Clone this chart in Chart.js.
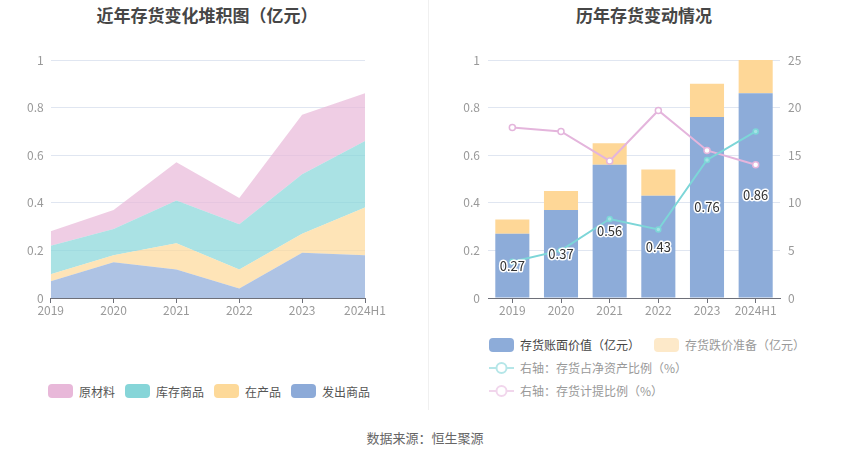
<!DOCTYPE html>
<html>
<head>
<meta charset="utf-8">
<script src="https://cdn.jsdelivr.net/npm/chart.js@4.4.1/dist/chart.umd.min.js"></script>
<style>
  body { margin: 0; background: #fff; font-family: "Noto Sans CJK SC", "Noto Sans", sans-serif; }
  #page { position: relative; width: 850px; height: 459px; overflow: hidden; }
  .title { position: absolute; top: 2px; font-size: 17px; font-weight: bold; color: #464646; text-align: center; }
  .box { position: absolute; }
  #divider { position: absolute; left: 428px; top: 0; width: 1px; height: 410px; background: #f0f0f0; }
  .legend { position: absolute; font-size: 12px; color: #555; }
  .legend .item { display: inline-flex; align-items: center; margin-right: 10px; height: 20px; }
  .legend .sw { display: inline-block; width: 25px; height: 14px; border-radius: 4px; margin-right: 6px; }
  .legend svg { margin-right: 6px; }
  .legend .row { height: 23px; display: flex; align-items: center; }
  #source { position: absolute; top: 428px; left: 0; width: 850px; text-align: center; font-size: 13px; color: #666; }
</style>
</head>
<body>
<div id="page">
  <div class="title" style="left:0;width:414px;">近年存货变化堆积图（亿元）</div>
  <div class="title" style="left:430px;width:428px;">历年存货变动情况</div>
  <div id="divider"></div>
  <div class="box" style="left:0;top:0;width:428px;height:330px;"><canvas id="stackChart"></canvas></div>
  <div class="box" style="left:428px;top:0;width:422px;height:330px;"><canvas id="invChart"></canvas></div>
  <div class="legend" id="stackLegend" style="left:48px;top:381px;"></div>
  <div class="legend" id="invLegend" style="left:489px;top:333px;"></div>
  <div id="source">数据来源：恒生聚源</div>
</div>
<script>
// --- 数据 ---
const years = ['2019', '2020', '2021', '2022', '2023', '2024H1'];

// 堆积图（亿元）
const rawMaterial = [0.06, 0.08, 0.16, 0.11, 0.25, 0.20];   // 原材料
const stockGoods = [0.12, 0.11, 0.18, 0.19, 0.25, 0.28];    // 库存商品
const wip = [0.03, 0.03, 0.11, 0.08, 0.08, 0.20];           // 在产品
const shippedGoods = [0.07, 0.15, 0.12, 0.04, 0.19, 0.18];  // 发出商品

// 存货变动
const bookValue = [0.27, 0.37, 0.56, 0.43, 0.76, 0.86];     // 存货账面价值（亿元）
const provision = [0.06, 0.08, 0.09, 0.11, 0.14, 0.14];     // 存货跌价准备（亿元）
const netAssetRatio = [3.8, 5.0, 8.3, 7.2, 14.5, 17.5];     // 存货占净资产比例（%）
const provisionRatio = [17.9, 17.5, 14.4, 19.7, 15.5, 14.0]; // 存货计提比例（%）

const leftTicks = [0, 0.2, 0.4, 0.6, 0.8, 1];
const rightTicks = [0, 5, 10, 15, 20, 25];

const FONT = '"Noto Sans CJK SC", "Noto Sans", sans-serif';
const gridColor = '#e0e6f1';
const axisColor = '#6e7079';
const tickColor = '#999';
const plainTick = v => String(v);

// --- 堆积图 ---
const stackSeries = [
  { name: '原材料', data: rawMaterial, color: '#e8b8d9', fill: 'rgba(232,184,217,0.7)' },
  { name: '库存商品', data: stockGoods, color: '#86d5d8', fill: 'rgba(134,213,216,0.7)' },
  { name: '在产品', data: wip, color: '#fdd999', fill: 'rgba(253,217,153,0.7)' },
  { name: '发出商品', data: shippedGoods, color: '#8caad8', fill: 'rgba(140,170,216,0.7)' }
];

// 底层为发出商品，依次向上
const stackDatasets = stackSeries.slice().reverse().map((s, i) => ({
  label: s.name,
  data: s.data,
  backgroundColor: s.fill,
  borderWidth: 0,
  pointRadius: 0,
  tension: 0,
  fill: i === 0 ? 'origin' : '-1'
}));

new Chart(document.getElementById('stackChart'), {
  type: 'line',
  data: { labels: years, datasets: stackDatasets },
  options: {
    responsive: true,
    maintainAspectRatio: false,
    animation: false,
    layout: { padding: { top: 60, right: 63, bottom: 10, left: 0 } },
    plugins: { legend: { display: false }, tooltip: { enabled: false } },
    scales: {
      x: {
        offset: false,
        grid: { drawOnChartArea: false, tickLength: 5, color: axisColor },
        border: { color: axisColor },
        ticks: { color: tickColor, font: { family: FONT, size: 12 }, padding: 0, maxRotation: 0 },
        afterFit: s => { s.height = 22; }
      },
      y: {
        stacked: true,
        min: 0, max: 1,
        afterBuildTicks: s => { s.ticks = leftTicks.map(v => ({ value: v })); },
        grid: { color: gridColor, drawTicks: false },
        border: { display: false },
        ticks: { color: tickColor, font: { family: FONT, size: 12 }, padding: 7, callback: plainTick },
        afterFit: s => { s.width = 50.7; }
      }
    }
  }
});

// --- 存货变动 ---
const barLabelPlugin = {
  id: 'barLabels',
  afterDatasetsDraw(chart) {
    const meta = chart.getDatasetMeta(0);
    const ctx = chart.ctx;
    ctx.save();
    ctx.font = '13px ' + FONT;
    ctx.textAlign = 'center';
    ctx.textBaseline = 'middle';
    ctx.lineWidth = 3;
    ctx.lineJoin = 'round';
    ctx.strokeStyle = '#fff';
    ctx.fillStyle = '#333';
    meta.data.forEach((bar, i) => {
      const y = (bar.y + bar.base) / 2;
      const txt = bookValue[i].toFixed(2);
      ctx.strokeText(txt, bar.x, y);
      ctx.fillText(txt, bar.x, y);
    });
    ctx.restore();
  }
};

new Chart(document.getElementById('invChart'), {
  type: 'bar',
  data: {
    labels: years,
    datasets: [
      { type: 'bar', label: '存货账面价值（亿元）', data: bookValue, backgroundColor: '#8dacd9', stack: 'inv', yAxisID: 'y', order: 1, categoryPercentage: 1, barPercentage: 0.7 },
      { type: 'bar', label: '存货跌价准备（亿元）', data: provision, backgroundColor: '#fed797', stack: 'inv', yAxisID: 'y', order: 1, categoryPercentage: 1, barPercentage: 0.7 },
      { type: 'line', label: '右轴：存货占净资产比例（%）', data: netAssetRatio, borderColor: '#7dd6d8', backgroundColor: '#7dd6d8', borderWidth: 2, pointRadius: 2.5, pointBorderWidth: 1.5, pointBackgroundColor: '#a6e3e5', yAxisID: 'y1', order: 0, tension: 0 },
      { type: 'line', label: '右轴：存货计提比例（%）', data: provisionRatio, borderColor: '#e4b5dc', backgroundColor: '#e4b5dc', borderWidth: 2, pointRadius: 3, pointBorderWidth: 1.5, pointBackgroundColor: '#fff', yAxisID: 'y1', order: 0, tension: 0 }
    ]
  },
  options: {
    responsive: true,
    maintainAspectRatio: false,
    animation: false,
    layout: { padding: { top: 60, right: 0, bottom: 10, left: 0 } },
    plugins: { legend: { display: false }, tooltip: { enabled: false } },
    scales: {
      x: {
        stacked: true,
        grid: { drawOnChartArea: false, offset: false, tickLength: 5, color: axisColor },
        border: { color: axisColor },
        ticks: { color: tickColor, font: { family: FONT, size: 12 }, padding: 0, maxRotation: 0 },
        afterFit: s => { s.height = 22; }
      },
      y: {
        stacked: true,
        position: 'left',
        min: 0, max: 1,
        afterBuildTicks: s => { s.ticks = leftTicks.map(v => ({ value: v })); },
        grid: { color: gridColor, drawTicks: false },
        border: { display: false },
        ticks: { color: tickColor, font: { family: FONT, size: 12 }, padding: 8, callback: plainTick },
        afterFit: s => { s.width = 60; }
      },
      y1: {
        position: 'right',
        min: 0, max: 25,
        afterBuildTicks: s => { s.ticks = rightTicks.map(v => ({ value: v })); },
        grid: { drawOnChartArea: false, drawTicks: false },
        border: { display: false },
        ticks: { color: tickColor, font: { family: FONT, size: 12 }, padding: 8, callback: plainTick },
        afterFit: s => { s.width = 70; }
      }
    }
  },
  plugins: [barLabelPlugin]
});

// --- 图例 ---
const stackLegend = document.getElementById('stackLegend');
stackSeries.forEach(s => {
  const it = document.createElement('span');
  it.className = 'item';
  it.innerHTML = '<span class="sw" style="background:' + s.color + '"></span>' + s.name;
  stackLegend.appendChild(it);
});

const invLegendRows = [
  [{ kind: 'box', name: '存货账面价值（亿元）', color: '#8dacd9', text: '#444' },
   { kind: 'box', name: '存货跌价准备（亿元）', color: '#fde9c9', text: '#999' }],
  [{ kind: 'line', name: '右轴：存货占净资产比例（%）', color: '#b5e6e8', text: '#999' }],
  [{ kind: 'line', name: '右轴：存货计提比例（%）', color: '#f1d6ec', text: '#999' }]
];
const invLegend = document.getElementById('invLegend');
invLegendRows.forEach(row => {
  const r = document.createElement('div');
  r.className = 'row';
  row.forEach(s => {
    const it = document.createElement('span');
    it.className = 'item';
    it.style.color = s.text;
    it.style.marginRight = '14px';
    if (s.kind === 'box') {
      it.innerHTML = '<span class="sw" style="background:' + s.color + '"></span>' + s.name;
    } else {
      it.innerHTML = '<svg width="25" height="14"><line x1="0" y1="7" x2="25" y2="7" stroke="' + s.color + '" stroke-width="2"/>' +
        '<circle cx="12.5" cy="7" r="5" fill="#fff" stroke="' + s.color + '" stroke-width="2"/></svg>' + s.name;
    }
    r.appendChild(it);
  });
  invLegend.appendChild(r);
});
</script>
</body>
</html>
